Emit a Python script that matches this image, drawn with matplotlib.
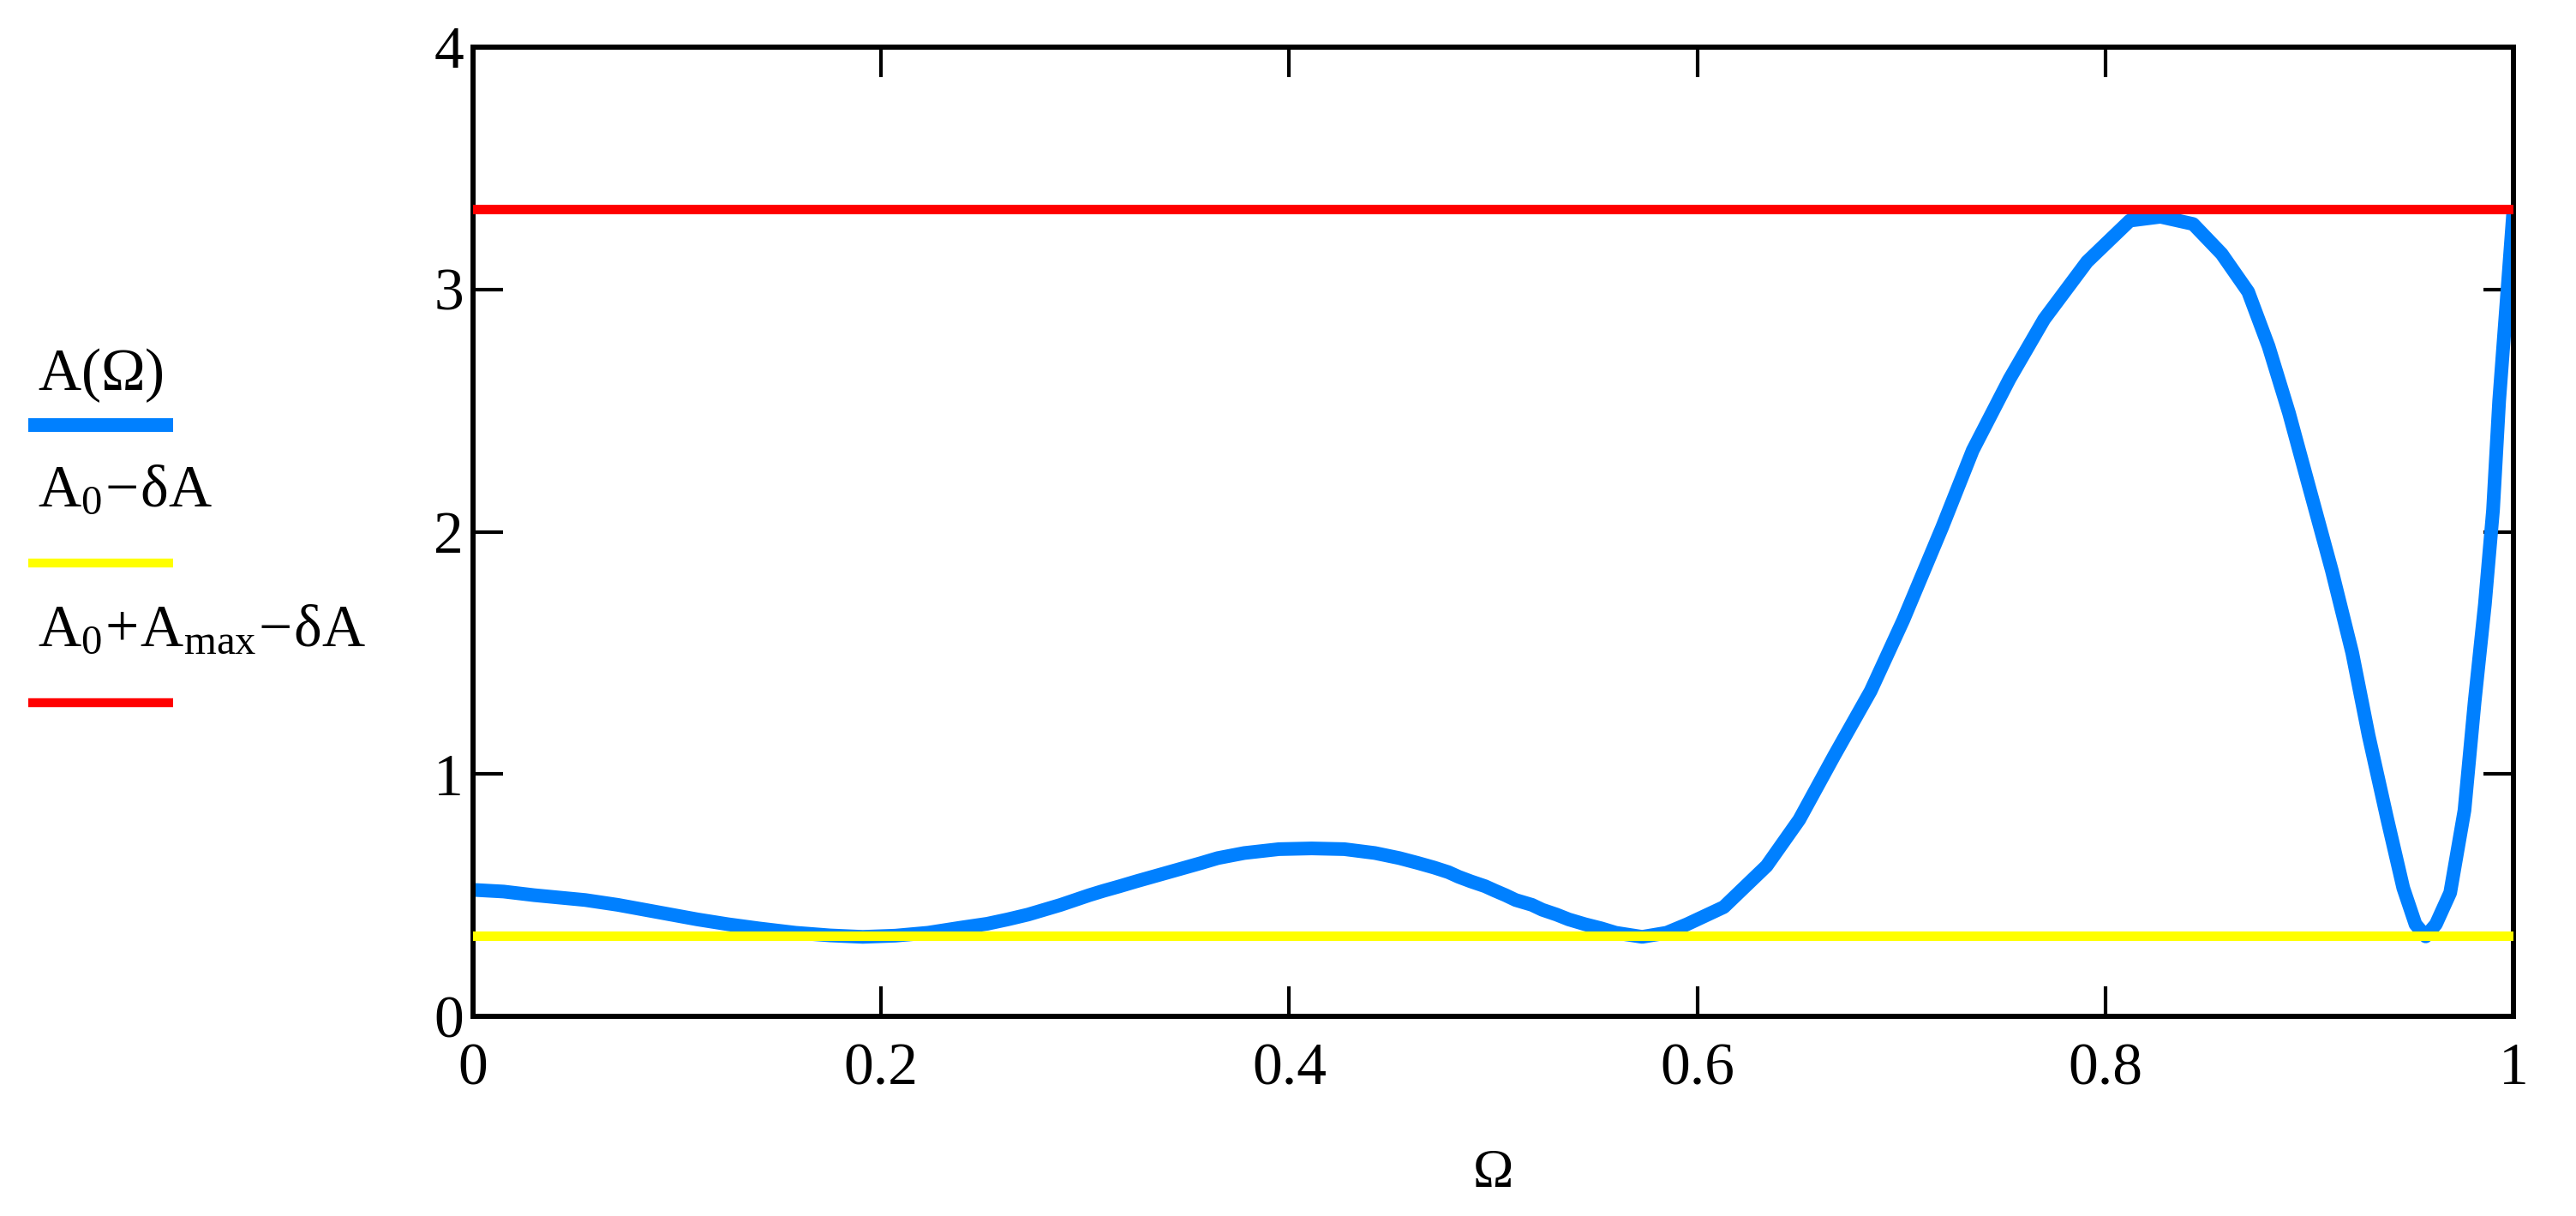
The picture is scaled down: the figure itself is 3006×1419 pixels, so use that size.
# amplitude response A(Omega) with the two tolerance levels

import matplotlib.pyplot as plt
from matplotlib.lines import Line2D

# values
omega = [0.000, 0.015, 0.030, 0.055, 0.071, 0.084, 0.097, 0.110, 0.125, 0.140,
         0.158, 0.175, 0.191, 0.207, 0.223, 0.239, 0.252, 0.262, 0.272, 0.280,
         0.288, 0.295, 0.302, 0.309, 0.317, 0.325, 0.333, 0.341, 0.349, 0.357,
         0.365, 0.378, 0.395, 0.411, 0.427, 0.442, 0.454, 0.463, 0.471, 0.478,
         0.483, 0.489, 0.496, 0.501, 0.506, 0.511, 0.519, 0.524, 0.531, 0.537,
         0.545, 0.553, 0.560, 0.573, 0.585, 0.595, 0.613, 0.634, 0.650, 0.667,
         0.685, 0.701, 0.720, 0.735, 0.753, 0.770, 0.791, 0.812, 0.827, 0.843,
         0.857, 0.870, 0.880, 0.890, 0.900, 0.911, 0.921, 0.929, 0.938, 0.946,
         0.952, 0.957, 0.962, 0.969, 0.976, 0.981, 0.986, 0.990, 0.993, 0.997,
         1.000]
amplitude = [0.522, 0.515, 0.500, 0.480, 0.460, 0.440, 0.420, 0.400, 0.380, 0.363,
             0.345, 0.334, 0.328, 0.333, 0.345, 0.366, 0.382, 0.400, 0.420, 0.440,
             0.460, 0.480, 0.500, 0.518, 0.537, 0.557, 0.576, 0.595, 0.614, 0.633,
             0.653, 0.674, 0.690, 0.693, 0.690, 0.674, 0.653, 0.633, 0.614, 0.595,
             0.576, 0.557, 0.537, 0.518, 0.500, 0.480, 0.460, 0.440, 0.420, 0.400,
             0.380, 0.363, 0.345, 0.328, 0.345, 0.380, 0.451, 0.621, 0.812, 1.074,
             1.343, 1.636, 2.018, 2.336, 2.630, 2.877, 3.114, 3.284, 3.300, 3.270,
             3.147, 2.990, 2.765, 2.490, 2.180, 1.840, 1.500, 1.160, 0.820, 0.530,
             0.380, 0.330, 0.380, 0.510, 0.850, 1.300, 1.700, 2.090, 2.540, 2.990,
             3.330]
lower_level = 0.333   # A0 - dA
upper_level = 3.333   # A0 + Amax - dA

x_ticks = [0, 0.2, 0.4, 0.6, 0.8, 1]
x_ticklabels = ['0', '0.2', '0.4', '0.6', '0.8', '1']
y_ticks = [0, 1, 2, 3, 4]

legend_labels = [r'$\mathrm{A(\Omega)}$',
                 r'$\mathrm{A_0\!-\!\delta A}$',
                 r'$\mathrm{A_0\!+\!A_{max}\!-\!\delta A}$']

blue = '#0080FF'
yellow = '#FFFF00'
red = '#FF0000'

plt.rcParams['font.family'] = ['Liberation Serif', 'DejaVu Serif']
plt.rcParams['mathtext.fontset'] = 'custom'
plt.rcParams['mathtext.rm'] = 'Liberation Serif'
plt.rcParams['mathtext.it'] = 'Liberation Serif'
plt.rcParams['mathtext.default'] = 'rm'

W, H = 3006, 1419
fig = plt.figure(figsize=(W / 100, H / 100), dpi=100)
ax = fig.add_axes([552 / W, 1 - 1186 / H, (2933 - 552) / W, (1186 - 55) / H])

# curve first, tolerance lines drawn over it
ax.plot(omega, amplitude, color=blue, linewidth=11.5, solid_capstyle='butt', zorder=2)
ax.axhline(lower_level, color=yellow, linewidth=8, zorder=3)
ax.axhline(upper_level, color=red, linewidth=8, zorder=3)

ax.set_xlim(0, 1)
ax.set_ylim(0, 4)
ax.set_xticks(x_ticks)
ax.set_xticklabels(x_ticklabels)
ax.set_yticks(y_ticks)
ax.tick_params(axis='both', which='major', direction='in', length=25, width=3,
               labelsize=50, top=True, right=True)
ax.tick_params(axis='x', pad=22)
ax.tick_params(axis='y', pad=8)
for s in ax.spines.values():
    s.set_linewidth(4.3)

ax.set_xlabel('Ω', fontsize=46, labelpad=44)

# legend by hand: label on top, swatch below it
legend_colors = [blue, yellow, red]
legend_widths = [11.5, 7.5, 7.5]
text_baselines = [455, 590, 753]
line_rows = [496, 657, 820]
for lab, col, lw, tb, lr in zip(legend_labels, legend_colors, legend_widths,
                                text_baselines, line_rows):
    fig.text(44 / W, 1 - tb / H, lab, fontsize=50, va='baseline', ha='left')
    fig.add_artist(Line2D([33 / W, 202 / W], [1 - lr / H, 1 - lr / H],
                          transform=fig.transFigure, color=col, linewidth=lw,
                          solid_capstyle='butt'))

fig.savefig('out.png', dpi=100)
